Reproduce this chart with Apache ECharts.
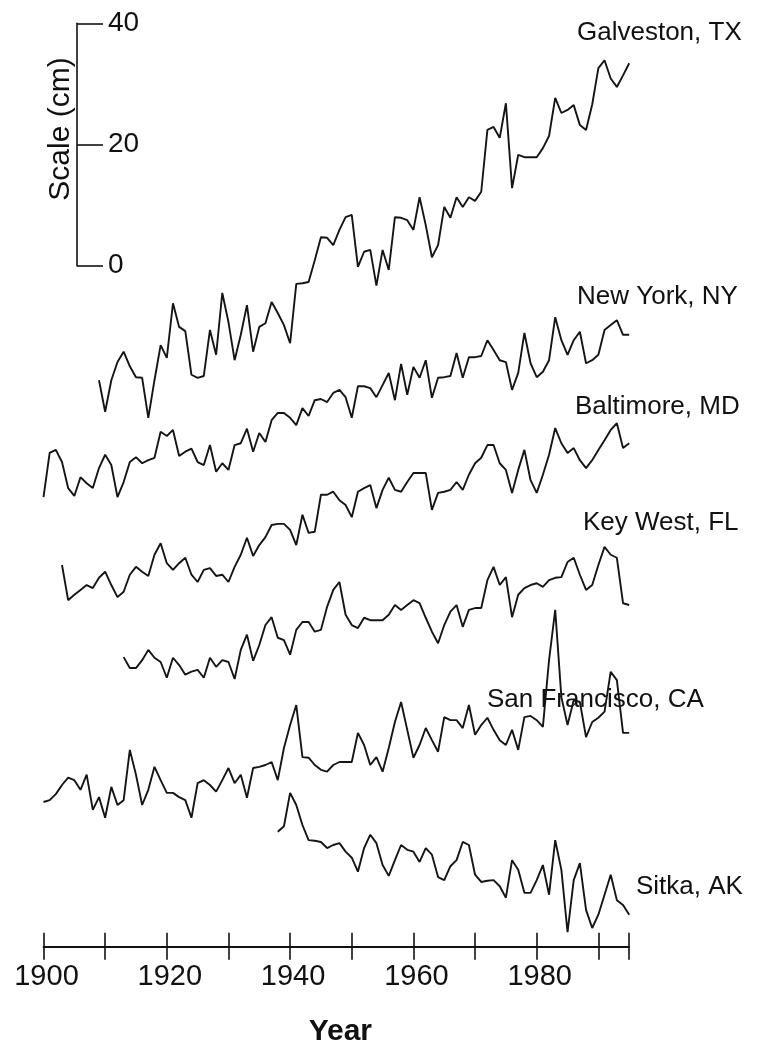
<!DOCTYPE html>
<html><head><meta charset="utf-8">
<script src="https://cdn.jsdelivr.net/npm/echarts@6/dist/echarts.min.js"></script>
<style>html,body{margin:0;padding:0;background:#fff}#c{width:773px;height:1055px}</style>
</head><body><div id="c"></div>
<script>
// Relative sea level (cm), annual values
const galvestonStart = 1909;
const galveston = [-18.9,-24.1,-18.9,-15.9,-14.2,-16.6,-18.4,-18.5,-25.1,-18.9,-13.1,-15.2,-6.2,-10.1,-10.8,-18.0,-18.5,-18.2,-10.6,-14.7,-4.5,-9.3,-15.6,-11.4,-6.5,-14.2,-10.1,-9.5,-6.0,-7.8,-9.8,-12.8,-3.0,-2.9,-2.7,0.9,4.7,4.6,3.4,5.9,8.0,8.4,-0.2,2.3,2.6,-3.3,2.6,-0.7,8.0,7.9,7.5,5.9,11.3,6.7,1.4,3.4,9.7,7.9,11.3,9.7,11.3,10.7,12.2,22.4,22.9,21.1,26.8,12.8,18.3,17.9,17.9,17.9,19.4,21.4,27.7,25.2,25.7,26.5,23.2,22.4,26.6,32.6,33.9,30.9,29.5,31.4,33.4];
const newYorkStart = 1900;
const newYork = [1.8,9.1,9.6,7.6,3.3,2.0,5.1,4.1,3.3,6.6,8.8,7.1,1.8,4.3,7.6,8.4,7.4,7.9,8.3,12.6,11.9,12.9,8.6,9.3,9.8,7.6,7.1,10.4,6.0,7.4,6.3,10.4,10.7,13.1,9.3,12.4,10.9,14.5,15.7,15.7,14.9,13.7,16.5,15.2,17.8,18.0,17.5,19.0,19.5,18.3,14.9,20.1,20.1,19.8,18.3,20.3,22.3,17.8,23.8,18.7,23.3,21.5,24.4,18.2,21.5,21.6,21.8,25.6,21.5,24.9,24.9,25.1,27.7,26.1,24.4,24.1,19.5,22.3,28.9,23.9,21.6,22.5,24.4,31.5,27.7,25.3,27.7,29.1,23.9,24.4,25.3,29.4,30.2,31.0,28.6,28.6];
const baltimoreStart = 1903;
const baltimore = [10.6,4.8,5.7,6.5,7.3,6.8,8.5,9.5,7.3,5.3,6.2,9.0,10.3,9.5,8.8,12.3,14.2,10.9,9.8,10.9,11.8,9.0,7.8,9.8,10.1,8.8,9.0,7.8,10.3,12.3,15.1,12.1,13.9,15.2,17.2,17.4,17.4,16.4,13.9,18.9,15.9,16.1,22.2,22.2,22.7,21.3,20.5,18.5,22.7,23.3,23.8,20.0,23.0,25.0,23.0,22.7,24.3,25.8,25.8,25.8,19.7,22.5,22.7,23.0,24.3,23.0,25.5,27.4,28.3,30.4,30.4,27.4,26.3,22.5,26.3,29.6,24.6,22.5,25.5,28.8,33.2,30.7,29.1,29.9,27.9,26.6,27.9,29.6,31.2,32.9,34.0,29.9,30.7];
const keyWestStart = 1913;
const keyWest = [5.4,3.6,3.6,4.9,6.6,5.3,4.6,2.0,5.3,4.1,2.5,3.0,3.3,2.0,5.3,3.8,4.9,4.6,1.8,6.6,9.1,4.8,7.4,10.7,12.0,8.6,8.2,5.8,9.9,11.2,11.2,9.6,9.9,13.7,16.5,17.8,12.4,10.7,10.2,11.9,11.5,11.5,11.5,12.4,14.0,13.2,14.0,14.8,14.3,11.9,9.6,7.7,10.7,12.9,14.0,10.4,13.2,13.5,13.5,18.1,20.3,17.3,18.6,12.0,15.7,16.8,17.3,17.6,17.0,18.1,18.5,18.6,21.1,21.8,19.0,16.5,17.3,20.6,23.6,22.3,21.8,14.3,14.0];
const sanFranciscoStart = 1900;
const sanFrancisco = [1.5,1.8,2.8,4.3,5.5,5.1,3.5,6.0,0.2,2.3,-1.1,4.0,1.0,1.8,10.1,6.0,1.0,3.5,7.3,5.1,3.0,3.0,2.3,1.8,-1.1,4.6,5.1,4.3,3.2,5.1,7.1,4.6,6.0,2.2,7.1,7.3,7.6,8.1,5.1,10.4,14.2,17.5,8.9,8.8,7.6,6.8,6.5,7.6,8.1,8.1,8.1,12.9,10.9,7.6,8.9,6.5,10.4,14.7,18.0,13.4,8.8,10.9,13.7,11.7,9.8,15.5,15.0,15.0,13.7,17.5,12.6,14.2,15.4,13.4,11.7,10.9,13.4,10.1,15.5,15.7,15.0,13.9,24.9,33.2,18.8,14.2,18.3,18.0,12.2,14.7,15.4,16.4,23.0,21.6,12.9,12.9];
const sitkaStart = 1938;
const sitka = [6.6,7.5,13.0,11.0,7.7,5.2,5.1,4.9,3.9,4.4,4.7,3.3,2.3,0.0,3.9,6.1,4.7,1.1,-0.7,1.9,4.4,3.6,3.3,1.6,3.9,2.8,-0.9,-1.4,0.9,1.9,4.9,4.4,-0.5,-1.7,-1.5,-1.4,-2.4,-4.3,1.9,0.3,-3.5,-3.5,-1.4,1.1,-3.8,5.2,0.3,-10.0,-1.4,1.4,-6.3,-9.3,-7.1,-3.8,-0.5,-4.7,-5.5,-7.1];

const stationNames = ['Galveston, TX','New York, NY','Baltimore, MD','Key West, FL','San Francisco, CA','Sitka, AK'];
const stationStarts = [galvestonStart,newYorkStart,baltimoreStart,keyWestStart,sanFranciscoStart,sitkaStart];
const stationValues = [galveston,newYork,baltimore,keyWest,sanFrancisco,sitka];
// vertical display offsets (cm) used to stack the records
const stationOffsets = [0,-40,-60,-70,-90,-100];

const xTickLabels = [1900,1920,1940,1960,1980];
const scaleTicks = [0,20,40];

const FONT = '"Liberation Sans", Arial, sans-serif';
const labelPos = [[577,33],[577,297],[575,407],[583,523],[487,700],[636,887]];

const series = stationValues.map((vals, k) => ({
  type: 'line',
  xAxisIndex: 0, yAxisIndex: 0,
  data: vals.map((v, i) => [stationStarts[k] + i, +(v + stationOffsets[k]).toFixed(2)]),
  showSymbol: false, symbol: 'none',
  lineStyle: {color: '#151515', width: 1.9},
  silent: true, animation: false
}));

const graphics = stationNames.map((n, k) => ({
  type: 'text', x: labelPos[k][0], y: labelPos[k][1], silent: true,
  style: {text: n, font: '26px ' + FONT, fill: '#111', textVerticalAlign: 'middle', textAlign: 'left'}
}));
graphics.push({
  type: 'text', x: 61, y: 129, rotation: Math.PI / 2, silent: true,
  style: {text: 'Scale (cm)', font: '30px ' + FONT, fill: '#111', textVerticalAlign: 'middle', textAlign: 'center'}
});

const chart = echarts.init(document.getElementById('c'), null, {renderer: 'canvas'});
chart.setOption({
  backgroundColor: '#fff',
  animation: false,
  grid: [
    {left: 43.5, right: 143.8, top: 23.3, height: 923.5},
    {left: 77, width: 40, top: 23.3, height: 242.4}
  ],
  xAxis: [
    {type: 'value', gridIndex: 0, min: 1900, max: 1995, interval: 10, position: 'bottom',
     axisLine: {show: true, onZero: false, lineStyle: {color: '#111', width: 1.8}},
     axisTick: {show: true, inside: false, length: 13, lineStyle: {color: '#111', width: 1.6}},
     axisLabel: {show: true, margin: 16, fontSize: 29, fontFamily: FONT, color: '#111', padding: [0, 0, 0, 6],
       formatter: v => xTickLabels.includes(v) ? String(v) : ''},
     splitLine: {show: false},
     name: 'Year', nameLocation: 'middle', nameGap: 70,
     nameTextStyle: {fontSize: 30, fontWeight: 'bold', fontFamily: FONT, color: '#111', padding: [0, 0, 0, 8]}},
    {type: 'value', gridIndex: 0, min: 1900, max: 1995, interval: 10, position: 'bottom',
     axisLine: {show: false, onZero: false},
     axisTick: {show: true, inside: true, length: 14, lineStyle: {color: '#111', width: 1.6}},
     axisLabel: {show: false}, splitLine: {show: false}},
    {type: 'value', gridIndex: 1, min: 0, max: 1, show: false, axisLine: {onZero: false}}
  ],
  yAxis: [
    {type: 'value', gridIndex: 0, min: -112.4, max: 40, show: false, axisLine: {onZero: false}},
    {type: 'value', gridIndex: 1, min: 0, max: 40, interval: 20, position: 'left',
     axisLine: {show: true, onZero: false, lineStyle: {color: '#111', width: 1.6}},
     axisTick: {show: true, inside: true, length: 26, lineStyle: {color: '#111', width: 1.6}},
     axisLabel: {show: true, inside: true, margin: 31, fontSize: 28, fontFamily: FONT, color: '#111',
       formatter: v => scaleTicks.includes(v) ? String(v) : ''},
     splitLine: {show: false}}
  ],
  series: series,
  graphic: graphics
});
</script></body></html>
